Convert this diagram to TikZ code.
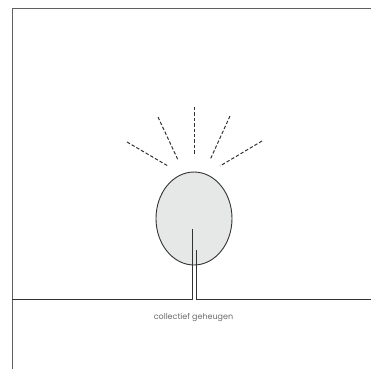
\documentclass[tikz,border=0pt]{standalone}
\usepackage{fontspec}
\setmainfont{Poppins}
\usetikzlibrary{shapes.geometric}
\definecolor{framec}{HTML}{606060}
\definecolor{inkc}{HTML}{333333}
\definecolor{fillc}{HTML}{E6E7E7}
\definecolor{textc}{HTML}{6A6A6A}
\tikzset{
  framel/.style={draw=framec, line width=1pt},
  ray/.style={draw=inkc, line width=1pt, dash pattern=on 3.4pt off 2pt},
  bulb/.style={ellipse, draw=inkc, fill=fillc, line width=0.9pt, minimum width=76pt, minimum height=93pt, inner sep=0pt},
  stem/.style={draw=inkc, line width=0.9pt},
  lbl/.style={font=\fontsize{8}{9}\selectfont, text=textc, inner sep=0pt}
}
\begin{document}
\begin{tikzpicture}[x=1pt,y=-1pt]
\useasboundingbox (0,0) rectangle (371,369);
% frame
\coordinate (fbl) at (12,369);
\coordinate (ftl) at (12,9);
\coordinate (ftr) at (371,9);
\draw[framel] (fbl) -- (ftl) -- (ftr);
% bulb
\node[bulb] (b) at (194,218.5) {};
% stem and baseline
\coordinate (s1) at (192,229);
\coordinate (s2) at (196,250);
\coordinate (bl) at (12,299);
\coordinate (br) at (371,299);
\draw[stem] (s1) -- (s1 |- bl) -- (bl);
\draw[stem] (s2) -- (s2 |- br) -- (br);
% rays
\coordinate (r1a) at (127,142); \coordinate (r1b) at (168,166);
\coordinate (r2a) at (158,117); \coordinate (r2b) at (178,160);
\coordinate (r3a) at (194,107); \coordinate (r3b) at (194,155);
\coordinate (r4a) at (230,116); \coordinate (r4b) at (210,160);
\coordinate (r5a) at (262,141); \coordinate (r5b) at (220,166);
\draw[ray] (r1a) -- (r1b);
\draw[ray] (r2a) -- (r2b);
\draw[ray] (r3a) -- (r3b);
\draw[ray] (r4a) -- (r4b);
\draw[ray] (r5a) -- (r5b);
% label
\node[lbl] (t) at (193.5,318) {collectief geheugen};
\end{tikzpicture}
\end{document}
